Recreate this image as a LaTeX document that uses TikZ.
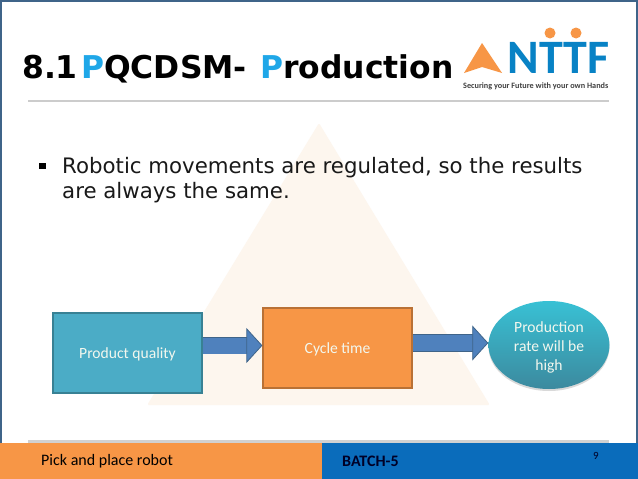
\documentclass[tikz,border=0pt]{standalone}
\usepackage{fontspec}
\setmainfont{DejaVu Sans}
\newfontfamily\calib{Carlito}
\usetikzlibrary{shapes.geometric,arrows.meta,shadows}
\definecolor{frameblue}{HTML}{3F6489}
\definecolor{titleblue}{HTML}{1FA7E8}
\definecolor{boxblue}{HTML}{4BACC6}
\definecolor{boxorange}{HTML}{F79646}
\definecolor{arrowblue}{HTML}{4F81BD}
\definecolor{barblue}{HTML}{0A6CBB}
\definecolor{peach}{HTML}{FDF6EE}
\definecolor{paletext}{HTML}{F2F7EE}
\tikzset{
  flowbox/.style={draw=#1!75!black,fill=#1,line width=1.2pt,text=paletext,font=\calib\fontsize{15.6}{18}\selectfont,inner sep=0pt,minimum width=149pt,minimum height=80pt,text height=13pt,text depth=3pt},
  flowarrow/.style={draw=frameblue,line width=0.8pt,double=arrowblue,double distance=16pt,-{Triangle[length=16pt,width=35pt,line width=0.8pt,fill=arrowblue,color=frameblue]}},
  foot/.style={font=\calib\fontsize{16}{18}\selectfont,anchor=west,inner sep=0pt},
  ttl/.style={anchor=base west,inner sep=0,font=\bfseries\fontsize{31.4}{36}\selectfont},
  bodytext/.style={anchor=base west,inner sep=0,font=\fontsize{21.3}{25}\selectfont,text=black!90}
}
\begin{document}
\begin{tikzpicture}[x=1pt,y=-1pt]
\useasboundingbox (0,0) rectangle (638,479);
\fill[white] (0,0) rectangle (638,479);
% watermark
\fill[peach,draw=peach,line join=round,line width=2pt] (319,125) -- (488,404) -- (149,404) -- cycle;
\draw[frameblue,line width=2pt] (0.5,0.5) rectangle (637,478);
% rules
\fill[black!20] (28,100) rectangle (609,102);
\fill[black!18] (28,440) rectangle (609,443);
% title
\node[ttl] (num) at (22,78) {8.1};
\node[ttl] (pq) at (81,78) {\textcolor{titleblue}{P}QCDSM-};
\node[ttl] (prod) at (260,78) {\textcolor{titleblue}{P}roduction};
% logo
\fill[boxorange] (482,43) -- (502,73) -- (482,67) -- (464,73) -- cycle;
\node[anchor=base west,inner sep=0,text=barblue!85!cyan,font=\calib\bfseries\fontsize{48}{48}\selectfont] (ntt) at (507.5,73) {NTTF};
\fill[boxorange] (550,33) circle (5.5 and 5.5);
\fill[boxorange] (576,33) circle (5.5 and 5.5);
\node[anchor=base west,inner sep=0,text=black!75,font=\calib\bfseries\fontsize{8.2}{10}\selectfont] (sec) at (463,88) {Securing your Future with your own Hands};
% bullet
\fill (39,163) rectangle (46,169);
\node[bodytext] (body) at (62,173) {Robotic movements are regulated, so the results};
\node[bodytext] (body2) at (62,198) {are always the same.};
% flow
\node[flowbox=boxblue] (pq2) at (127.5,353) {Product quality};
\node[flowbox=boxorange] (ct) at (337.5,348) {Cycle time};
\node[ellipse,shade,top color=boxblue!75!cyan,bottom color=boxblue!80!black,align=center,text=paletext,font=\calib\fontsize{15.6}{19}\selectfont,inner sep=0,minimum width=121pt,minimum height=88pt,general shadow={fill=black!15,shadow xshift=0pt,shadow yshift=-2pt}] (rate) at (549,345) {\rule{0pt}{15pt}Production\\rate will be\\high};
\coordinate (a1s) at (pq2.east |- 0,345.5);
\coordinate (a1e) at (ct.west |- 0,345.5);
\coordinate (a2s) at (ct.east |- 0,343);
\coordinate (a2e) at (rate.west |- 0,343);
\draw[flowarrow] (a1s) -- (a1e);
\draw[flowarrow] (a2s) -- (a2e);
% footer
\fill[barblue] (322,443) rectangle (638,479);
\fill[boxorange] (0,443) rectangle (322,479);
\node[foot] (f1) at (41,461.5) {Pick and place robot};
\node[foot,font=\calib\bfseries\fontsize{16}{18}\selectfont,text=black!85!blue] (f2) at (342,461.5) {BATCH-5};
\node[font=\calib\fontsize{11}{12}\selectfont,text=black!85!blue] (pg) at (596,456) {9};
\end{tikzpicture}
\end{document}
